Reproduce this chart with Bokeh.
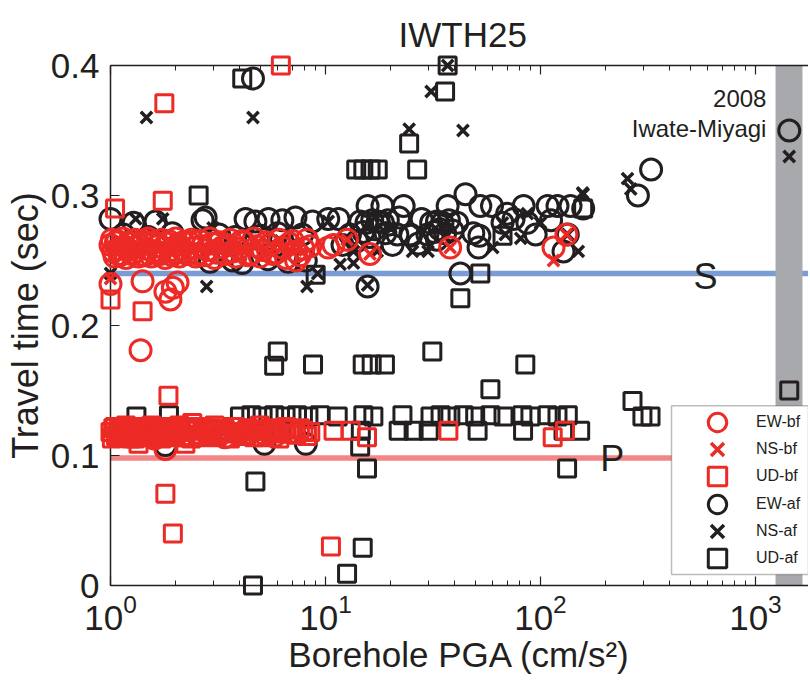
from bokeh.plotting import figure
from bokeh.models import (Range1d, LogAxis, FixedTicker, NumeralTickFormatter, Span,
                          BoxAnnotation, Label, Legend, LegendItem)
from bokeh.embed import file_html
from bokeh.resources import INLINE

RED = "#ec2a26"
BLK = "#231f20"
FONT = "Liberation Sans"

# ---------------- data ----------------
# before (bf): dense cluster of small events + scattered values
ew_bf_pga = [1.00, 1.03, 1.06, 1.09, 1.12, 1.16, 1.20, 1.24, 1.28, 1.32, 1.37, 1.42, 1.47, 1.52, 1.58,
             1.64, 1.70, 1.76, 1.83, 1.90, 1.97, 2.05, 2.13, 2.22, 2.32, 2.43, 2.55, 2.68, 2.82, 2.97,
             3.13, 3.30, 3.50, 3.70, 3.95, 4.20, 4.50, 4.80, 5.10, 5.50, 5.90, 6.30, 6.80, 7.30, 7.90,
             8.50,
             1.015, 1.045, 1.075, 1.105, 1.14, 1.18, 1.22, 1.26, 1.30, 1.345, 1.395, 1.445, 1.495,
             1.55, 1.61, 1.67, 1.73, 1.795, 1.865, 1.935, 2.01, 2.09, 2.175, 2.27, 2.375, 2.49,
             2.615, 2.75, 2.895, 3.05, 3.215, 3.40, 3.60, 3.82, 4.07, 4.35, 4.65, 4.95, 5.30, 5.70,
             6.10, 6.55, 7.05, 7.60, 8.20,
             1.0, 1.41, 1.38, 1.8, 1.9, 1.95, 2.05, 7.3, 10.3, 10.9, 12.6, 16.1, 38, 115, 132,
             1.8, 1.15, 1.6, 2.6, 3.4, 4.4, 5.8]
ew_bf_t = [0.262, 0.257, 0.264, 0.259, 0.255, 0.261, 0.258, 0.263, 0.256, 0.260, 0.262, 0.254, 0.259,
           0.264, 0.257, 0.261, 0.255, 0.260, 0.263, 0.258, 0.256, 0.262, 0.259, 0.257, 0.264, 0.260,
           0.255, 0.261, 0.258, 0.263, 0.256, 0.260, 0.262, 0.257, 0.259, 0.264, 0.255, 0.261, 0.258,
           0.262, 0.256, 0.260, 0.263, 0.257, 0.259, 0.261,
           0.266, 0.253, 0.265, 0.254, 0.267, 0.252, 0.264, 0.255, 0.266, 0.253, 0.265, 0.254, 0.267,
           0.253, 0.264, 0.255, 0.266, 0.252, 0.265, 0.254, 0.267, 0.253, 0.264, 0.255, 0.266, 0.253,
           0.265, 0.254, 0.267, 0.252, 0.264, 0.255, 0.266, 0.253, 0.265, 0.254, 0.267, 0.253, 0.264,
           0.255, 0.266, 0.252, 0.265, 0.254, 0.266,
           0.232, 0.234, 0.181, 0.226, 0.220, 0.229, 0.233, 0.250, 0.260, 0.262, 0.266, 0.255, 0.260,
           0.260, 0.270, 0.105, 0.115, 0.113, 0.116, 0.114, 0.117, 0.115]

ns_bf_pga = [1.03, 1.09, 1.16, 1.24, 1.32, 1.42, 1.52, 1.64, 1.76, 1.90, 2.05, 2.22, 2.43, 2.68, 2.97,
             3.30, 3.70, 4.20, 4.80, 5.50, 6.30, 7.30, 1.0, 16.1, 38, 115, 132, 12.6]
ns_bf_t = [0.260, 0.262, 0.257, 0.261, 0.259, 0.263, 0.258, 0.260, 0.256, 0.262, 0.259, 0.261, 0.257,
           0.260, 0.263, 0.258, 0.261, 0.259, 0.262, 0.257, 0.260, 0.258, 0.236, 0.255, 0.260, 0.250,
           0.270, 0.266]

ud_bf_pga = [1.00, 1.03, 1.06, 1.09, 1.12, 1.16, 1.20, 1.24, 1.28, 1.32, 1.37, 1.42, 1.47, 1.52, 1.58,
             1.64, 1.70, 1.76, 1.83, 1.90, 1.97, 2.05, 2.13, 2.22, 2.32, 2.43, 2.55, 2.68, 2.82, 2.97,
             3.13, 3.30, 3.50, 3.70, 3.95, 4.20, 4.50, 4.80, 5.10, 5.50, 5.90, 6.30, 6.80, 7.30, 7.90,
             8.50,
             1.015, 1.045, 1.075, 1.105, 1.14, 1.18, 1.22, 1.26, 1.30, 1.345, 1.395, 1.445, 1.495,
             1.55, 1.61, 1.67, 1.73, 1.795, 1.865, 1.935, 2.01, 2.09, 2.175, 2.27, 2.375, 2.49,
             2.615, 2.75, 2.895, 3.05, 3.215, 3.40, 3.60, 3.82, 4.07, 4.35, 4.65, 4.95, 5.30, 5.70,
             6.10, 6.55, 7.05, 7.60, 8.20,
             6.2, 1.78, 1.05, 1.75, 1.0, 1.41, 1.86, 1.8, 1.95, 10.6, 2.4, 1.35, 2.23, 10.9, 13.1,
             15.6, 37.3, 114, 130]
ud_bf_t = [0.118, 0.121, 0.115, 0.119, 0.122, 0.116, 0.120, 0.113, 0.118, 0.121, 0.117, 0.119, 0.114,
           0.122, 0.118, 0.116, 0.120, 0.119, 0.115, 0.121, 0.117, 0.120, 0.118, 0.114, 0.122, 0.119,
           0.116, 0.120, 0.118, 0.121, 0.115, 0.119, 0.117, 0.122, 0.118, 0.116, 0.120, 0.119, 0.114,
           0.121, 0.118, 0.117, 0.120, 0.116, 0.119, 0.118,
           0.113, 0.122, 0.116, 0.121, 0.114, 0.123, 0.117, 0.120, 0.113, 0.122, 0.115, 0.121, 0.114,
           0.123, 0.116, 0.120, 0.113, 0.122, 0.117, 0.121, 0.114, 0.123, 0.115, 0.120, 0.113, 0.122,
           0.116, 0.121, 0.114, 0.123, 0.117, 0.120, 0.113, 0.122, 0.115, 0.121, 0.114, 0.123, 0.116,
           0.120, 0.113, 0.122, 0.117, 0.121, 0.115,
           0.400, 0.371, 0.290, 0.296, 0.220, 0.211, 0.146, 0.0705, 0.040, 0.030, 0.125, 0.109, 0.109,
           0.119, 0.119, 0.114, 0.119, 0.114, 0.119]

# after (af)
ew_af_pga = [1.0, 1.28, 1.62, 2.68, 2.77, 4.25, 4.72, 5.43, 6.3, 7.25, 8.7, 10.3,
             1.15, 1.5, 1.94, 3.2, 3.8, 5.0, 6.0, 7.8,
             2.9, 3.7, 4.1, 6.7, 5.4, 8.1,
             4.6,
             11.5, 15.7, 18.4, 23.1, 14.5, 15.5, 16.5, 17.5, 18.5, 19.5, 13.0, 14.0, 21.6, 24.8, 29.8,
             27.0, 31.0, 33.0, 35.0, 37.5, 41.0, 37.0, 44.8, 52.5, 59.5, 48.7, 51.5, 42.4, 66.6, 83.5,
             86.9, 108, 120, 138, 158, 134, 128, 15.7, 284, 327, 1436, 5.2, 8.1, 1.8, 20.5, 16, 12,
             33, 95, 70, 25, 52, 15, 17, 19, 32, 34, 36, 39, 22, 28, 75, 112]
ew_af_t = [0.282, 0.279, 0.280, 0.281, 0.283, 0.282, 0.280, 0.282, 0.281, 0.283, 0.280, 0.282,
           0.270, 0.268, 0.271, 0.270, 0.268, 0.269, 0.271, 0.270,
           0.249, 0.250, 0.248, 0.249, 0.251, 0.250,
           0.390,
           0.282, 0.292, 0.292, 0.292, 0.280, 0.279, 0.281, 0.280, 0.279, 0.281, 0.270, 0.265, 0.270,
           0.270, 0.270, 0.263, 0.279, 0.280, 0.279, 0.281, 0.279, 0.292, 0.301, 0.292, 0.292, 0.271,
           0.260, 0.240, 0.279, 0.292, 0.279, 0.292, 0.292, 0.292, 0.290, 0.270, 0.257, 0.230, 0.300,
           0.320, 0.350, 0.109, 0.109, 0.108, 0.262, 0.268, 0.262, 0.266, 0.270, 0.286, 0.269, 0.269,
           0.272, 0.274, 0.271, 0.272, 0.274, 0.271, 0.273, 0.283, 0.282, 0.282, 0.281]

ns_af_pga = [1.47, 4.6, 31, 37, 24.5, 43.6, 254, 263, 157, 1436, 2.8, 8.2, 11.7, 13.5, 15.7, 17.4,
             25.4, 30, 66.6, 68.6, 80.9, 86.9, 100, 134, 150, 158, 1.31, 1.75, 60, 4.3, 6.2, 3.0,
             36, 20, 10.3, 1.0, 9.2, 13.5]
ns_af_t = [0.360, 0.360, 0.380, 0.400, 0.351, 0.350, 0.313, 0.305, 0.302, 0.330, 0.230, 0.230, 0.247,
           0.257, 0.231, 0.257, 0.257, 0.257, 0.279, 0.270, 0.267, 0.286, 0.279, 0.270, 0.257, 0.301,
           0.282, 0.282, 0.260, 0.270, 0.265, 0.275, 0.268, 0.275, 0.280, 0.240, 0.240, 0.248]

ud_af_pga = [4.1, 37, 36, 24.5, 13.9, 15.0, 16.2, 17.5, 26.7, 2.57, 9.0, 52.5, 42.4, 66.6, 158, 1436,
             6.0, 5.77, 8.75, 14.9, 16.4, 18.9, 31.4, 85, 58.5, 268, 298, 325,
             1.32, 1.87, 4.0, 4.52, 5.1, 5.77, 6.52, 7.37, 8.33, 9.42, 11.4, 15, 16.7, 22.8, 30.8,
             34.3, 38.1, 43.9, 49.7, 58.5, 67.3, 82.4, 89.8, 108, 120, 134,
             4.3, 4.9, 5.5, 6.2, 14.6, 21.9, 25.7, 30.2, 51, 83, 128, 153,
             14.5, 15.6, 133, 4.72, 14.9, 12.6, 4.6]
ud_af_t = [0.390, 0.400, 0.380, 0.340, 0.320, 0.320, 0.320, 0.320, 0.320, 0.300, 0.239, 0.240, 0.221,
           0.269, 0.290, 0.150,
           0.180, 0.169, 0.170, 0.170, 0.170, 0.170, 0.180, 0.170, 0.151, 0.142, 0.130, 0.130,
           0.130, 0.131, 0.130, 0.131, 0.130, 0.131, 0.130, 0.131, 0.130, 0.131, 0.130, 0.131, 0.130,
           0.131, 0.130, 0.131, 0.130, 0.131, 0.130, 0.131, 0.130, 0.131, 0.130, 0.131, 0.130, 0.131,
           0.119, 0.119, 0.119, 0.119, 0.119, 0.119, 0.119, 0.119, 0.119, 0.119, 0.119, 0.119,
           0.107, 0.090, 0.090, 0.080, 0.029, 0.009, 0.000]

s_time = 0.24
p_time = 0.098
mainshock_pga = [1240, 1655]
y_ticks = [0, 0.1, 0.2, 0.3, 0.4]
legend_labels = ["EW-bf", "NS-bf", "UD-bf", "EW-af", "NS-af", "UD-af"]

# ---------------- figure ----------------
p = figure(width=808, height=678, x_axis_type="log",
           x_range=Range1d(1, 1765), y_range=Range1d(0, 0.4),
           output_backend="svg", toolbar_location=None,
           min_border_left=110, min_border_right=0, min_border_top=63, min_border_bottom=93,
           title="IWTH25")
p.outline_line_color = None
p.grid.visible = False
p.background_fill_color = "white"

p.title.text_font = FONT
p.title.text_font_size = "35px"
p.title.text_font_style = "normal"
p.title.text_color = BLK
p.title.align = "left"
p.title.offset = 288
p.title.standoff = 24

def style_axis(ax, labels=True):
    ax.axis_line_color = BLK
    ax.axis_line_width = 1.5
    ax.major_tick_line_color = BLK
    ax.minor_tick_line_color = BLK
    ax.major_tick_line_width = 1.2
    ax.minor_tick_line_width = 1.0
    ax.major_tick_in = 9
    ax.major_tick_out = 0
    ax.minor_tick_in = 5
    ax.minor_tick_out = 0
    ax.major_label_text_font = FONT
    ax.major_label_text_color = BLK
    ax.axis_label_text_font = FONT
    ax.axis_label_text_color = BLK
    ax.axis_label_text_font_style = "normal"
    if labels:
        ax.major_label_text_font_size = "35px"
        ax.axis_label_text_font_size = "35px"
    else:
        ax.major_label_text_font_size = "2px"
        ax.major_label_text_alpha = 0
        ax.major_label_standoff = 0

xa = p.xaxis[0]
style_axis(xa)
xa.axis_label = "Borehole PGA (cm/s²)"
xa.major_label_standoff = 8
xa.axis_label_standoff = 2

ya = p.yaxis[0]
style_axis(ya)
ya.ticker = FixedTicker(ticks=y_ticks, minor_ticks=[])
ya.formatter = NumeralTickFormatter(format="0.[0]")
ya.axis_label = "Travel time (sec)"
ya.axis_label_text_font_size = "36px"
ya.major_label_standoff = 11
ya.axis_label_standoff = 2

top = LogAxis(ticker=xa.ticker)
style_axis(top, labels=False)
p.add_layout(top, "above")

# reference lines and mainshock band
p.add_layout(Span(location=s_time, dimension="width", line_color="#7b9bd5", line_width=5.5, level="underlay"))
p.add_layout(Span(location=p_time, dimension="width", line_color="#f28585", line_width=5.5, level="underlay"))
p.add_layout(BoxAnnotation(left=mainshock_pga[0], right=mainshock_pga[1], fill_color="#a7a9ac",
                           fill_alpha=1.0, line_color=None, level="underlay"))

# markers
r_ud_af = p.scatter(ud_af_pga, ud_af_t, marker="square", size=17, fill_color=None,
                    line_color=BLK, line_width=3, level="overlay")
r_ew_af = p.scatter(ew_af_pga, ew_af_t, marker="circle", size=21, fill_color=None,
                    line_color=BLK, line_width=3, level="overlay")
r_ns_af = p.scatter(ns_af_pga, ns_af_t, marker="x", size=16, line_color=BLK, line_width=3.5,
                    level="overlay")
r_ud_bf = p.scatter(ud_bf_pga, ud_bf_t, marker="square", size=17, fill_color=None,
                    line_color=RED, line_width=3, level="overlay")
r_ew_bf = p.scatter(ew_bf_pga, ew_bf_t, marker="circle", size=21, fill_color=None,
                    line_color=RED, line_width=3, level="overlay")
r_ns_bf = p.scatter(ns_bf_pga, ns_bf_t, marker="x", size=16, line_color=RED, line_width=3.5,
                    level="overlay")

# text annotations
for txt, x, y in [("S", 585, 0.2375), ("P", 216, 0.0975)]:
    p.add_layout(Label(x=x, y=y, text=txt, text_font=FONT, text_font_size="36px",
                       text_color=BLK, text_align="center", text_baseline="alphabetic"))
p.add_layout(Label(x=1125, y=0.3745, text="2008", text_font=FONT, text_font_size="24px",
                   text_color=BLK, text_align="right", text_baseline="alphabetic"))
p.add_layout(Label(x=1125, y=0.3515, text="Iwate-Miyagi", text_font=FONT, text_font_size="24px",
                   text_color=BLK, text_align="right", text_baseline="alphabetic"))

# legend: white framed box, then one single-entry legend per row (lets the keys be large)
p.add_layout(BoxAnnotation(left=407, bottom=0.0085, top=0.1382, fill_color="white", fill_alpha=1.0,
                           line_color=BLK, line_width=1.5))
renderers = [r_ew_bf, r_ns_bf, r_ud_bf, r_ew_af, r_ns_af, r_ud_af]
row_pitch = 27.2
for i, (lab, r) in enumerate(zip(legend_labels, renderers)):
    lg = Legend(items=[LegendItem(label=lab, renderers=[r])],
                location=(584, int(round(140 - i * row_pitch))))
    lg.label_text_font = FONT
    lg.label_text_font_size = "16px"
    lg.label_text_color = BLK
    lg.glyph_height = 46
    lg.glyph_width = 46
    lg.label_height = 20
    lg.padding = 0
    lg.margin = 0
    lg.spacing = 0
    lg.label_standoff = 16
    lg.border_line_color = None
    lg.background_fill_alpha = 0
    p.add_layout(lg)

open("out.html", "w").write(file_html(p, INLINE))
